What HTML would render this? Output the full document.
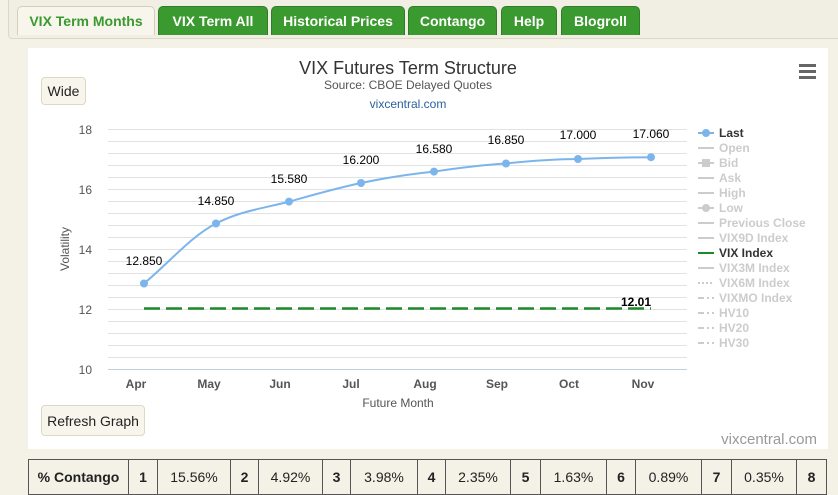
<!DOCTYPE html>
<html><head><style>
body{margin:0;width:838px;height:491px;background:#f4f1e6;font-family:"Liberation Sans",sans-serif;position:relative;overflow:hidden}
.bar{position:absolute;left:8px;top:0;width:840px;height:38px;border:1px solid #ddd8c6;border-top:none;border-radius:0 0 4px 4px;background:#f1eee3}
.tab{position:absolute;top:6px;height:29px;line-height:28px;text-align:center;font-weight:bold;font-size:14px;color:#fff;background:#3a9a2f;border:1px solid #2f7d27;border-bottom:none;border-radius:5px 5px 0 0;box-sizing:border-box}
.tab.on{background:#f7f5ec;color:#3a9a2f;border-color:#d4cfbc}
.panel{position:absolute;left:28px;top:48px;width:800px;height:401px;background:#fff}
.btn{position:absolute;background:#f8f6ec;border:1px solid #ddd8c2;border-radius:4px;font-size:14px;color:#222;text-align:center;box-sizing:border-box}
table{position:absolute;left:28px;top:459px;border-collapse:collapse;font-size:14px;color:#222}
td{border:1px solid #555;height:34px;text-align:center;padding:0}
</style></head><body>
<div class="bar"></div>
<div class="tab on" style="left:17px;width:138px">VIX Term Months</div>
<div class="tab" style="left:158px;width:110px">VIX Term All</div>
<div class="tab" style="left:271px;width:134px">Historical Prices</div>
<div class="tab" style="left:408px;width:89px">Contango</div>
<div class="tab" style="left:501px;width:56px">Help</div>
<div class="tab" style="left:561px;width:79px">Blogroll</div>
<div class="panel"></div>
<div class="btn" style="left:41px;top:77px;width:45px;height:28px;line-height:27px">Wide</div>
<div class="btn" style="left:41px;top:405px;width:104px;height:31px;line-height:30px">Refresh Graph</div>
<svg style="position:absolute;left:0;top:0" width="838" height="491" font-family="Liberation Sans,sans-serif">
<text x="408" y="74" text-anchor="middle" font-size="18" fill="#333">VIX Futures Term Structure</text>
<text x="408" y="89" text-anchor="middle" font-size="12" fill="#555">Source: CBOE Delayed Quotes</text>
<text x="408" y="108" text-anchor="middle" font-size="12" fill="#2a5f9e">vixcentral.com</text>
<g fill="#666"><rect x="799" y="64" width="17" height="3"/><rect x="799" y="70" width="17" height="3"/><rect x="799" y="76" width="17" height="3"/></g>
<g stroke="#e2e2e2" stroke-width="1">
<line x1="108" x2="687" y1="129.5" y2="129.5"/><line x1="108" x2="687" y1="141.5" y2="141.5"/><line x1="108" x2="687" y1="153.5" y2="153.5"/><line x1="108" x2="687" y1="165.5" y2="165.5"/><line x1="108" x2="687" y1="177.5" y2="177.5"/><line x1="108" x2="687" y1="189.5" y2="189.5"/><line x1="108" x2="687" y1="201.5" y2="201.5"/><line x1="108" x2="687" y1="213.5" y2="213.5"/><line x1="108" x2="687" y1="225.5" y2="225.5"/><line x1="108" x2="687" y1="237.5" y2="237.5"/><line x1="108" x2="687" y1="249.5" y2="249.5"/><line x1="108" x2="687" y1="261.5" y2="261.5"/><line x1="108" x2="687" y1="273.5" y2="273.5"/><line x1="108" x2="687" y1="285.5" y2="285.5"/><line x1="108" x2="687" y1="297.5" y2="297.5"/><line x1="108" x2="687" y1="309.5" y2="309.5"/><line x1="108" x2="687" y1="321.5" y2="321.5"/><line x1="108" x2="687" y1="333.5" y2="333.5"/><line x1="108" x2="687" y1="345.5" y2="345.5"/><line x1="108" x2="687" y1="357.5" y2="357.5"/>
</g>
<line x1="108" x2="687" y1="369.5" y2="369.5" stroke="#c0d0e0"/>
<g font-size="12" fill="#555" text-anchor="end"><text x="92" y="134">18</text><text x="92" y="194">16</text><text x="92" y="254">14</text><text x="92" y="314">12</text><text x="92" y="374">10</text></g>
<text transform="translate(69,249) rotate(-90)" text-anchor="middle" font-size="12" fill="#555">Volatility</text>
<g font-size="12" font-weight="bold" fill="#555" text-anchor="middle"><text x="136" y="388">Apr</text><text x="209" y="388">May</text><text x="280" y="388">Jun</text><text x="351" y="388">Jul</text><text x="425" y="388">Aug</text><text x="497" y="388">Sep</text><text x="569" y="388">Oct</text><text x="643" y="388">Nov</text></g>
<text x="398" y="407" text-anchor="middle" font-size="12" fill="#555">Future Month</text>
<line x1="144" x2="651" y1="308.5" y2="308.5" stroke="#1a8a2a" stroke-width="2.5" stroke-dasharray="16,6"/>
<text x="636" y="306" text-anchor="middle" font-size="12" font-weight="bold" fill="#000">12.01</text>
<path d="M144,283.5 C170,262 190,237 216,223.5 C240,211 265,208 289,201.6 C313,195 337,188 361,183 C385,178 410,174 434,171.6 C458,168 482,165 506,163.5 C530,161 554,159 578,159 C602,158 626,157.5 651,157.2" fill="none" stroke="#7cb5ec" stroke-width="2"/>
<g fill="#7cb5ec"><circle cx="144" cy="283.5" r="4"/><circle cx="216" cy="223.5" r="4"/><circle cx="289" cy="201.6" r="4"/><circle cx="361" cy="183" r="4"/><circle cx="434" cy="171.6" r="4"/><circle cx="506" cy="163.5" r="4"/><circle cx="578" cy="159" r="4"/><circle cx="651" cy="157.2" r="4"/></g>
<g font-size="12" fill="#000" text-anchor="middle"><text x="144" y="265">12.850</text><text x="216" y="205">14.850</text><text x="289" y="183">15.580</text><text x="361" y="164">16.200</text><text x="434" y="153">16.580</text><text x="506" y="144">16.850</text><text x="578" y="139">17.000</text><text x="651" y="138">17.060</text></g>
<g font-size="12" font-weight="bold" fill="#ccc">
<line x1="698" x2="714" y1="133" y2="133" stroke="#7cb5ec" stroke-width="2"/><circle cx="706" cy="133" r="4" fill="#7cb5ec"/><text x="719" y="137" fill="#333">Last</text>
<line x1="698" x2="714" y1="148" y2="148" stroke="#ccc" stroke-width="2"/><text x="719" y="152">Open</text>
<line x1="698" x2="714" y1="163" y2="163" stroke="#ccc" stroke-width="2"/><rect x="702" y="159" width="8" height="8"/><text x="719" y="167">Bid</text>
<line x1="698" x2="714" y1="178" y2="178" stroke="#ccc" stroke-width="2"/><text x="719" y="182">Ask</text>
<line x1="698" x2="714" y1="193" y2="193" stroke="#ccc" stroke-width="2"/><text x="719" y="197">High</text>
<line x1="698" x2="714" y1="208" y2="208" stroke="#ccc" stroke-width="2"/><circle cx="706" cy="208" r="4"/><text x="719" y="212">Low</text>
<line x1="698" x2="714" y1="223" y2="223" stroke="#ccc" stroke-width="2"/><text x="719" y="227">Previous Close</text>
<line x1="698" x2="714" y1="238" y2="238" stroke="#ccc" stroke-width="2"/><text x="719" y="242">VIX9D Index</text>
<line x1="698" x2="714" y1="253" y2="253" stroke="#1a8a2a" stroke-width="2"/><text x="719" y="257" fill="#333">VIX Index</text>
<line x1="698" x2="714" y1="268" y2="268" stroke="#ccc" stroke-width="2"/><text x="719" y="272">VIX3M Index</text>
<line x1="698" x2="714" y1="283" y2="283" stroke="#ccc" stroke-width="2" stroke-dasharray="2,2"/><text x="719" y="287">VIX6M Index</text>
<line x1="698" x2="714" y1="298" y2="298" stroke="#ccc" stroke-width="2" stroke-dasharray="6,3,2,3"/><text x="719" y="302">VIXMO Index</text>
<line x1="698" x2="714" y1="313" y2="313" stroke="#ccc" stroke-width="2" stroke-dasharray="6,3,2,3"/><text x="719" y="317">HV10</text>
<line x1="698" x2="714" y1="328" y2="328" stroke="#ccc" stroke-width="2" stroke-dasharray="6,3,2,3"/><text x="719" y="332">HV20</text>
<line x1="698" x2="714" y1="343" y2="343" stroke="#ccc" stroke-width="2" stroke-dasharray="6,3,2,3"/><text x="719" y="347">HV30</text>
</g>
<text x="817" y="444" text-anchor="end" font-size="15" fill="#999">vixcentral.com</text>
</svg>
<table><tr>
<td style="width:99px;font-weight:bold">% Contango</td><td style="width:28px;font-weight:bold">1</td><td style="width:72px">15.56%</td><td style="width:27px;font-weight:bold">2</td><td style="width:63px">4.92%</td><td style="width:27px;font-weight:bold">3</td><td style="width:66px">3.98%</td><td style="width:27px;font-weight:bold">4</td><td style="width:64px">2.35%</td><td style="width:29px;font-weight:bold">5</td><td style="width:65px">1.63%</td><td style="width:28px;font-weight:bold">6</td><td style="width:65px">0.89%</td><td style="width:29px;font-weight:bold">7</td><td style="width:64px">0.35%</td><td style="width:29px;font-weight:bold">8</td>
</tr></table>
</body></html>
